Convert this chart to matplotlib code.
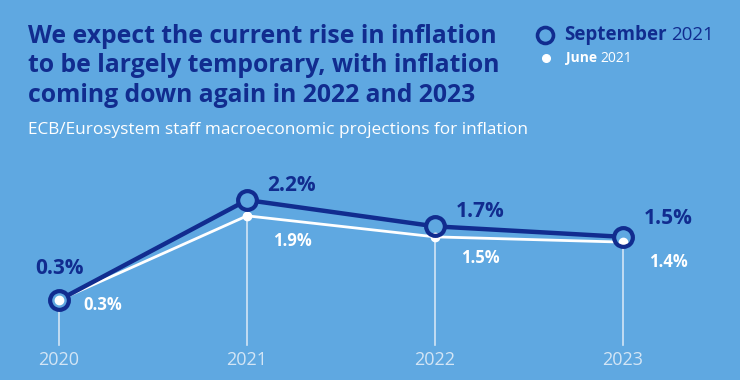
import matplotlib
matplotlib.use("Agg")
import matplotlib.pyplot as plt

# projections (annual HICP inflation, %)
years = [2020, 2021, 2022, 2023]
september = [0.3, 2.2, 1.7, 1.5]
june = [0.3, 1.9, 1.5, 1.4]

BG = "#5fa8e1"
NAVY = "#112c8f"
WHITE = "#ffffff"
GRID = "#d3e5f5"

plt.rcParams["font.family"] = ["Open Sans", "DejaVu Sans"]

fig = plt.figure(figsize=(7.4, 3.8), dpi=100)
fig.patch.set_facecolor(BG)
ax = fig.add_axes([0, 0, 1, 1])
ax.set_facecolor(BG)
ax.set_xlim(2019.686, 2023.622)
ax.set_ylim(-1.221, 6.003)
ax.axis("off")

# vertical guide lines under each year
base = -0.556
for x, s, j in zip(years, september, june):
    ax.plot([x, x], [base, min(s, j)], color=GRID, lw=1.2, zorder=1)
    ax.text(x, -0.84, str(x), ha="center", va="center", color=GRID, fontsize=13)

# lines
ax.plot(years, june, color=WHITE, lw=2, zorder=2)
ax.plot(years, september, color=NAVY, lw=3.2, zorder=3)
ax.plot(years, september, ls="none", marker="o", ms=13, mfc=BG, mec=BG, zorder=4)
ax.plot(years, june, ls="none", marker="o", ms=6, mfc=WHITE, mec=WHITE, zorder=5)
ax.plot(years, september, ls="none", marker="o", ms=13.5, mfc="none", mec=NAVY, mew=3, zorder=6)

# value labels
sep_off = [(0.0, 0.6), (0.106, 0.286), (0.11, 0.29), (0.11, 0.34)]
jun_off = [(0.128, -0.095), (0.138, -0.48), (0.138, -0.40), (0.138, -0.378)]
for i, (x, v, (dx, dy)) in enumerate(zip(years, september, sep_off)):
    ha = "center" if i == 0 else "left"
    ax.text(x + dx, v + dy, f"{v:.1f}%", ha=ha, va="center",
            color=NAVY, fontsize=15, fontweight="bold", zorder=7)
for x, v, (dx, dy) in zip(years, june, jun_off):
    ax.text(x + dx, v + dy, f"{v:.1f}%", ha="left", va="center",
            color=WHITE, fontsize=12, fontweight="bold", zorder=7)

# title and subtitle
fig.text(28 / 740, 1 - 66 / 380,
         "We expect the current rise in inflation\n"
         "to be largely temporary, with inflation\n"
         "coming down again in 2022 and 2023",
         ha="left", va="center", color=NAVY, fontsize=17.8, fontweight="bold",
         linespacing=1.22)
fig.text(28 / 740, 1 - 130 / 380,
         "ECB/Eurosystem staff macroeconomic projections for inflation",
         ha="left", va="center", color=WHITE, fontsize=12.4)

# legend
ax_leg = fig.add_axes([0, 0, 1, 1], facecolor="none")
ax_leg.set_xlim(0, 740)
ax_leg.set_ylim(380, 0)
ax_leg.axis("off")
ax_leg.plot([545], [35], marker="o", ms=11.5, mfc="none", mec=NAVY, mew=2.6)
ax_leg.plot([546], [58], marker="o", ms=5.5, mfc=WHITE, mec=WHITE)
t = ax_leg.text(564, 35, "September", ha="left", va="center", color=NAVY,
                fontsize=13.5, fontweight="bold")
fig.canvas.draw()
bb = t.get_window_extent().transformed(ax_leg.transData.inverted())
ax_leg.text(bb.x1 + 4, 35, "2021", ha="left", va="center", color=NAVY, fontsize=13.5)
t2 = ax_leg.text(566, 58, "June", ha="left", va="center", color=WHITE,
                 fontsize=10, fontweight="bold")
fig.canvas.draw()
bb2 = t2.get_window_extent().transformed(ax_leg.transData.inverted())
ax_leg.text(bb2.x1 + 3, 58, "2021", ha="left", va="center", color=WHITE, fontsize=10)

fig.savefig("out.png", dpi=100, facecolor=BG)
